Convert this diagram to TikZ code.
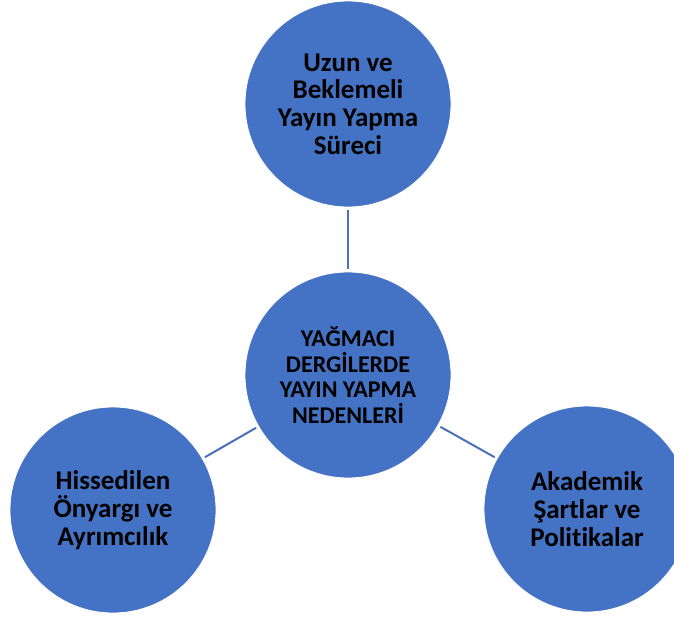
\documentclass[tikz,border=0pt]{standalone}
\usepackage{fontspec}
\setmainfont{Carlito}[Ligatures=NoCommon]
\definecolor{cfill}{HTML}{4472C4}
\definecolor{cline}{HTML}{4A70B8}
\tikzset{
  bubble/.style={circle, fill=cfill, draw=white, line width=0.8pt, minimum size=206pt, inner sep=0pt, align=center, font=\bfseries\fontsize{27}{27.7}\selectfont, text=black},
  hub/.style={bubble, font=\bfseries\fontsize{24}{25.5}\selectfont},
  link/.style={draw=cline, line width=2pt, shorten <=2.5pt, shorten >=2.5pt}
}
\begin{document}
\begin{tikzpicture}[x=1pt,y=-1pt]
\useasboundingbox (0,0) rectangle (674,618);
\begin{scope}
\clip (0,0) rectangle (674,618);
\node[hub] (c) at (348,375) {YAĞMACI\\DERGİLERDE\\YAYIN YAPMA\\NEDENLERİ};
\node[bubble] (t) at (348,104) {Uzun ve\\Beklemeli\\Yayın Yapma\\Süreci};
\node[bubble] (l) at (113,510) {Hissedilen\\Önyargı ve\\Ayrımcılık};
\node[bubble] (r) at (587,509) {Akademik\\Şartlar ve\\Politikalar};
\draw[link] (c) -- (t);
\draw[link] (c) -- (l);
\draw[link] (c) -- (r);
\end{scope}
\end{tikzpicture}
\end{document}
